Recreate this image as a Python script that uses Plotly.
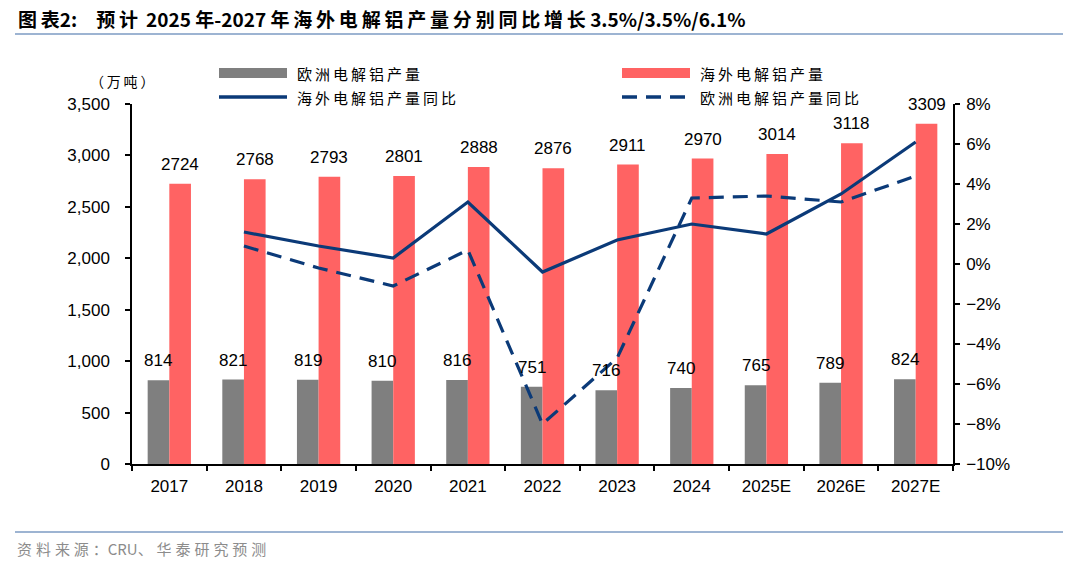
import plotly.graph_objects as go

years = ["2017", "2018", "2019", "2020", "2021", "2022", "2023", "2024", "2025E", "2026E", "2027E"]
europe = [814, 821, 819, 810, 816, 751, 716, 740, 765, 789, 824]
overseas = [2724, 2768, 2793, 2801, 2888, 2876, 2911, 2970, 3014, 3118, 3309]
overseas_yoy = [None, 1.6, 0.9, 0.3, 3.1, -0.4, 1.2, 2.0, 1.5, 3.5, 6.1]
europe_yoy = [None, 0.9, -0.2, -1.1, 0.7, -8.0, -4.7, 3.3, 3.4, 3.1, 4.4]

W, H = 1080, 565
OFF = 8  # page body margin
# plot area in page pixels: x 132..953, y 104..464
ML = 132 - OFF
MT = 104 - OFF
MR = W - (953 - OFF)
MB = H - (464 - OFF)
PW, PH = W - ML - MR, H - MT - MB
BARGAP = 0.42

GRAY = "#7F7F7F"
RED = "#FF6363"
NAVY = "#0B3A78"
RULE = "#9DB4D2"
FONT = "Liberation Sans, Arial, sans-serif"
CJK = "Noto Sans CJK SC, sans-serif"
TS = "\u2009"  # thin space used as letter spacing


def spaced(s, sep=TS):
    return sep.join(s)


def px(x):
    return (x - OFF - ML) / PW


def py(y):
    return 1 - (y - OFF - MT) / PH


fig = go.Figure()
fig.add_trace(go.Bar(x=years, y=europe, name="欧洲电解铝产量", marker_color=GRAY,
                     marker_line_width=0, showlegend=False))
fig.add_trace(go.Bar(x=years, y=overseas, name="海外电解铝产量", marker_color=RED,
                     marker_line_width=0, showlegend=False))
fig.add_trace(go.Scatter(x=years, y=overseas_yoy, yaxis="y2", mode="lines",
                         name="海外电解铝产量同比", line=dict(color=NAVY, width=3.2),
                         showlegend=False))
fig.add_trace(go.Scatter(x=years, y=europe_yoy, yaxis="y2", mode="lines",
                         name="欧洲电解铝产量同比",
                         line=dict(color=NAVY, width=3.2, dash="15px,9px"),
                         showlegend=False))

# data labels above bars (x given as category index)
cat_w = PW / len(years)
bar_w = cat_w * (1 - BARGAP) / 2
annotations = []
for i, yr in enumerate(years):
    annotations.append(dict(x=i, y=europe[i], xref="x", yref="y", text=str(europe[i]),
                            showarrow=False, xshift=-bar_w / 2, yshift=8, yanchor="bottom",
                            font=dict(family=FONT, size=17, color="#000")))
    annotations.append(dict(x=i, y=overseas[i], xref="x", yref="y", text=str(overseas[i]),
                            showarrow=False, xshift=bar_w / 2, yshift=8, yanchor="bottom",
                            font=dict(family=FONT, size=17, color="#000")))

# title, unit, source
title_txt = (spaced("图表") + "2:" + "\u2003" + spaced("预计") + "\u2009 2025 年-2027 "
             + spaced("年海外电解铝产量分别同比增长") + " 3.5%/3.5%/6.1%")
annotations.append(dict(x=px(16), y=py(19), xref="paper", yref="paper", xanchor="left",
                        yanchor="middle", showarrow=False, text="<b>" + title_txt + "</b>",
                        font=dict(family=CJK, size=19, color="#000")))
annotations.append(dict(x=px(88), y=py(81), xref="paper", yref="paper", xanchor="left",
                        yanchor="middle", showarrow=False, text=spaced("（万吨）"),
                        font=dict(family=CJK, size=14, color="#000")))
src_sep = "\u2009\u200a"
annotations.append(dict(x=px(15), y=py(548), xref="paper", yref="paper", xanchor="left",
                        yanchor="middle", showarrow=False,
                        text=spaced("资料来源：", src_sep) + "CRU" + spaced("、华泰研究预测", src_sep),
                        font=dict(family=CJK, size=15, color="#8C8C8C")))

# manual legend
shapes = []
legend_items = [
    (219, 73, "bar", GRAY, "欧洲电解铝产量"),
    (622, 73, "bar", RED, "海外电解铝产量"),
    (219, 97, "solid", NAVY, "海外电解铝产量同比"),
    (622, 97, "dash", NAVY, "欧洲电解铝产量同比"),
]
for x0, yc, kind, col, label in legend_items:
    if kind == "bar":
        shapes.append(dict(type="rect", xref="paper", yref="paper", x0=px(x0), x1=px(x0 + 68),
                           y0=py(yc + 5), y1=py(yc - 5), fillcolor=col, line_width=0))
    else:
        shapes.append(dict(type="line", xref="paper", yref="paper", x0=px(x0), x1=px(x0 + 68),
                           y0=py(yc), y1=py(yc),
                           line=dict(color=col, width=3.5,
                                     dash="solid" if kind == "solid" else "15px,9px")))
    annotations.append(dict(x=px(x0 + 76), y=py(yc), xref="paper", yref="paper",
                            xanchor="left", yanchor="middle", showarrow=False,
                            text=spaced(label),
                            font=dict(family=CJK, size=15, color="#000")))

# rules
shapes.append(dict(type="line", xref="paper", yref="paper", x0=px(15), x1=px(1063),
                   y0=py(34), y1=py(34), line=dict(color=RULE, width=2)))
shapes.append(dict(type="line", xref="paper", yref="paper", x0=px(15), x1=px(1063),
                   y0=py(532), y1=py(532), line=dict(color=RULE, width=2)))

axis_common = dict(showline=True, linecolor="#000", linewidth=1.5, ticks="outside",
                   ticklen=5, tickcolor="#000", tickwidth=1.5, showgrid=False,
                   tickfont=dict(size=17))

fig.update_layout(
    width=W, height=H,
    margin=dict(l=ML, r=MR, t=MT, b=MB, pad=0),
    paper_bgcolor="white", plot_bgcolor="white",
    barmode="group", bargap=BARGAP, bargroupgap=0,
    font=dict(family=FONT, size=17, color="#000"),
    xaxis=dict(type="category", range=[-0.5, len(years) - 0.5], tickson="boundaries",
               tickangle=0, ticklabelstandoff=6, **axis_common),
    yaxis=dict(range=[0, 3500], dtick=500, tickformat=",", zeroline=False,
               ticklabelstandoff=12, **axis_common),
    yaxis2=dict(range=[-10, 8], dtick=2, ticksuffix="%", overlaying="y", side="right",
                zeroline=False, ticklabelstandoff=3, **axis_common),
    annotations=annotations,
    shapes=shapes,
    showlegend=False,
)

fig.write_html("out.html")
